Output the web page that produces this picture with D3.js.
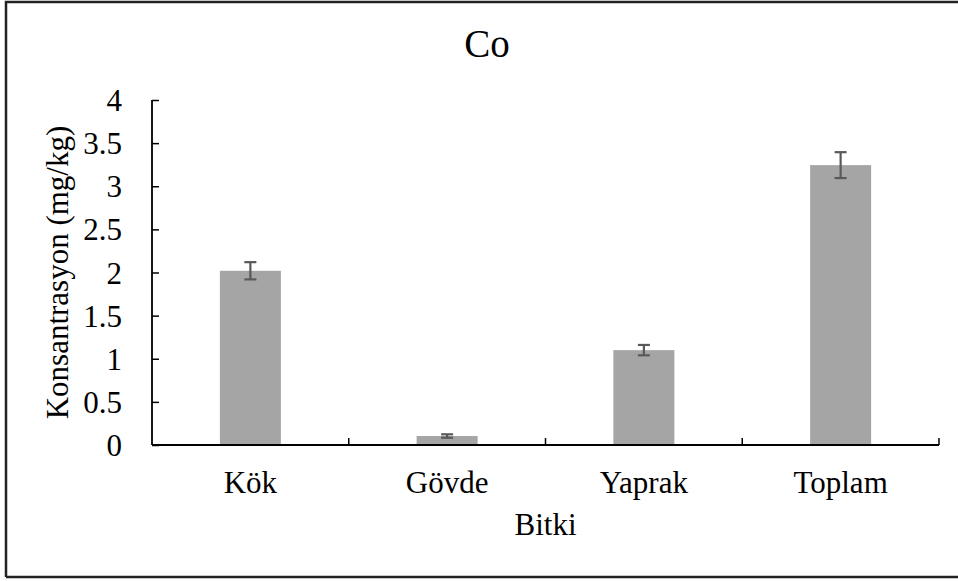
<!DOCTYPE html>
<html><head><meta charset="utf-8">
<script src="https://cdn.jsdelivr.net/npm/d3@7"></script>
<style>body{margin:0;background:#fff}svg{display:block}</style>
</head><body><svg id="c" width="958" height="581"></svg>
<script>
const categories = ["Kök", "Gövde", "Yaprak", "Toplam"];
const values = [2.02, 0.104, 1.10, 3.245];
const errors = [0.10, 0.02, 0.06, 0.15];
const yTicks = [0, 0.5, 1, 1.5, 2, 2.5, 3, 3.5, 4];
const title = "Co";
const xTitle = "Bitki";
const yTitle = "Konsantrasyon (mg/kg)";

const FONT = "'Liberation Serif', 'Times New Roman', Times, 'DejaVu Serif', serif";
const svg = d3.select("#c").style("font-family", FONT);
const pL = 152, pR = 939, pT = 100, pB = 445;
const LABEL = "31px";

// chart border
svg.append("path").attr("d", "M6,577 L6,2 L962,2 M6,577 L962,577")
  .attr("fill", "none").attr("stroke", "#222").attr("stroke-width", 2.5);

const x = d3.scaleBand().domain(categories).range([pL, pR]).paddingInner(0.69).paddingOuter(0.345);
const y = d3.scaleLinear().domain([0, 4]).range([pB, pT]);

const data = categories.map((c, i) => ({c, v: values[i], e: errors[i]}));

// bars
svg.append("g").selectAll("rect").data(data).join("rect")
  .attr("x", d => x(d.c)).attr("width", x.bandwidth())
  .attr("y", d => y(d.v)).attr("height", d => y(0) - y(d.v))
  .attr("fill", "#a5a5a5");

// error bars
const eg = svg.append("g").attr("stroke", "#595959").attr("stroke-width", 2.2);
data.forEach(d => {
  const cx = x(d.c) + x.bandwidth() / 2;
  eg.append("line").attr("x1", cx).attr("x2", cx).attr("y1", y(d.v + d.e)).attr("y2", y(d.v - d.e));
  [d.v + d.e, d.v - d.e].forEach(v => eg.append("line").attr("x1", cx - 6).attr("x2", cx + 6).attr("y1", y(v)).attr("y2", y(v)));
});

// y axis
const ya = svg.append("g").attr("transform", `translate(${pL},0)`)
  .call(d3.axisRight(y).tickValues(yTicks).tickSize(7).tickFormat(d3.format("")));
ya.attr("font-family", null).attr("font-size", null);
ya.select(".domain").attr("stroke", "#000").attr("stroke-width", 1.8).attr("d", `M0,${pT}V${pB}`);
ya.selectAll(".tick line").attr("stroke", "#000").attr("stroke-width", 1.5);
ya.selectAll(".tick text").attr("x", -30).attr("text-anchor", "end").attr("dy", "0.34em").attr("fill", "#000")
  .style("font-family", FONT).style("font-size", LABEL);

// x axis
const step = x.step();
const xa = svg.append("g").attr("transform", `translate(0,${pB})`);
xa.append("line").attr("x1", pL).attr("x2", pR).attr("stroke", "#000").attr("stroke-width", 2);
categories.forEach((c, i) => {
  const bx = pL + step * (i + 1);
  xa.append("line").attr("x1", bx).attr("x2", bx).attr("y1", 0).attr("y2", -7).attr("stroke", "#000").attr("stroke-width", 1.5);
  xa.append("text").attr("x", x(c) + x.bandwidth() / 2).attr("y", 48).attr("text-anchor", "middle")
    .style("font-family", FONT).style("font-size", LABEL).text(c);
});

// titles
svg.append("text").attr("x", 487).attr("y", 57).attr("text-anchor", "middle").style("font-family", FONT).style("font-size", "39px").text(title);
svg.append("text").attr("x", (pL + pR) / 2).attr("y", 535).attr("text-anchor", "middle").style("font-family", FONT).style("font-size", LABEL).text(xTitle);
svg.append("text").attr("transform", `translate(68,${(pT + pB) / 2}) rotate(-90)`).attr("text-anchor", "middle")
  .style("font-family", FONT).style("font-size", LABEL).text(yTitle);
</script></body></html>
